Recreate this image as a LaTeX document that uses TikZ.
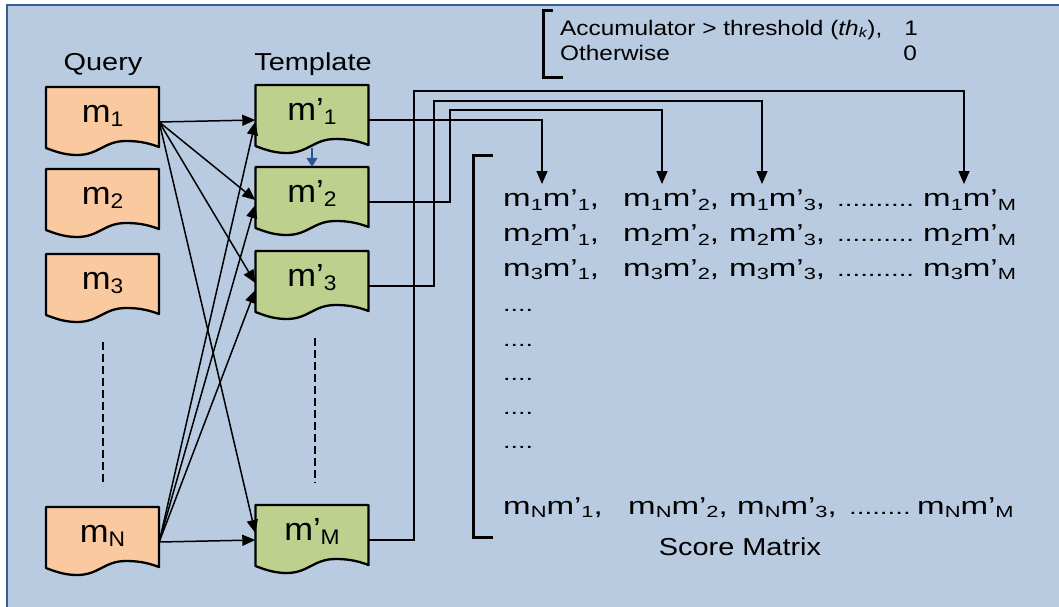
\documentclass[tikz,border=0pt]{standalone}
\usepackage{fontspec}
\setmainfont{Liberation Sans}
\usetikzlibrary{arrows.meta}
\newfontfamily\lblfont{Liberation Sans}[FakeStretch=1.18]
\newfontfamily\boxfont{Liberation Sans}[FakeStretch=1.08]
\newfontfamily\rowfont{Liberation Sans}[FakeStretch=1.35]
\newfontfamily\accfont{Liberation Sans}[FakeStretch=1.16]
\newcommand\lw[1]{\raisebox{-0.14em}{\scalebox{0.66}{#1}}}
\definecolor{bgcol}{RGB}{185,203,224}
\definecolor{bordercol}{RGB}{55,96,146}
\definecolor{peach}{RGB}{250,201,160}
\definecolor{leaf}{RGB}{189,208,142}
\definecolor{darrow}{RGB}{46,84,150}
\newcommand\docshape[3]{%
  \begin{scope}[shift={(#1,#2)}]
    \filldraw[fill=#3,draw=black,line width=2.3pt,line join=round]
      (0,0) -- (113,0) -- (113,60)
      .. controls (100,55) and (90,54) .. (80,54)
      .. controls (58,54) and (53,68) .. (31,68)
      .. controls (18,68) and (8,64) .. (0,61) -- cycle;
  \end{scope}}
\begin{document}
\begin{tikzpicture}[x=1pt,y=-1pt,
  boxnode/.style={minimum width=113pt,minimum height=70pt,inner sep=0pt,draw=none},
  boxtxt/.style={anchor=base,inner sep=0pt,font={\boxfont\fontsize{32}{36}\selectfont}},
  lbl/.style={anchor=base,inner sep=0pt,font={\lblfont\fontsize{24.5}{28}\selectfont}},
  acc/.style={inner sep=0pt,font={\accfont\fontsize{21}{24}\selectfont}},
  row/.style={anchor=base west,inner sep=0pt,font={\rowfont\fontsize{24.5}{28}\selectfont}},
  dots/.style={anchor=base west,inner sep=0pt,font={\rowfont\fontsize{20.5}{24}\selectfont}},
  sdots/.style={anchor=base west,inner sep=0pt,font={\rowfont\fontsize{20}{24}\selectfont}},
  conn/.style={line width=1.5pt,-{Triangle[length=13pt,width=11pt]}},
  brk/.style={line width=3pt},
  dashln/.style={line width=1.3pt,dash pattern=on 8pt off 4pt},
  bluearr/.style={darrow,line width=1.2pt,-{Triangle[length=9pt,width=11pt]}}]
\useasboundingbox (0,0) rectangle (1059,606);
% background
\fill[bgcol] (7,5) rectangle (1061,608);
\draw[bordercol,line width=1.6pt] (7,608) -- (7,5) -- (1061,5);

% headings
\node[lbl] (hq) at (103,70) {Query};
\node[lbl] (ht) at (313,70) {Template};

% document shapes
\docshape{46}{87}{peach}
\docshape{46}{169}{peach}
\docshape{46}{254}{peach}
\docshape{46}{507}{peach}
\docshape{255.5}{85}{leaf}
\docshape{255.5}{167}{leaf}
\docshape{255.5}{251}{leaf}
\docshape{255.5}{505}{leaf}

\node[boxnode] (q1) at (102.5,122) {};
\node[boxnode] (q2) at (102.5,204) {};
\node[boxnode] (q3) at (102.5,289) {};
\node[boxnode] (qN) at (102.5,542) {};
\node[boxnode] (t1) at (312,120) {};
\node[boxnode] (t2) at (312,202) {};
\node[boxnode] (t3) at (312,286) {};
\node[boxnode] (tM) at (312,540) {};

\node[boxtxt] (lq1) at (q1.center) {m\lw{1}};
\node[boxtxt] (lq2) at (q2.center) {m\lw{2}};
\node[boxtxt] (lq3) at (q3.center) {m\lw{3}};
\node[boxtxt] (lqN) at (qN.center) {m\lw{N}};
\node[boxtxt] (lt1) at (t1.center) {m’\lw{1}};
\node[boxtxt] (lt2) at (t2.center) {m’\lw{2}};
\node[boxtxt] (lt3) at (t3.center) {m’\lw{3}};
\node[boxtxt] (ltM) at (tM.center) {m’\lw{M}};

% vertical dashed continuation lines
\coordinate (dq1) at (103,342); \coordinate (dq2) at (103,486);
\coordinate (dt1) at (315,338); \coordinate (dt2) at (315,483);
\draw[dashln] (dq1) -- (dq2);
\draw[dashln] (dt1) -- (dt2);

% query -> template arrows
\draw[conn] (q1.east) -- (t1.west);
\draw[conn] (q1.east) -- ([yshift=2pt]t2.west);
\draw[conn] (q1.east) -- ([yshift=3pt]t3.west);
\draw[conn] (q1.east) -- ([yshift=7pt]tM.west);
\draw[conn] (qN.east) -- ([yshift=-2pt]t1.west);
\draw[conn] (qN.east) -- ([yshift=-3pt]t2.west);
\draw[conn] (qN.east) -- ([yshift=-4pt]t3.west);
\draw[conn] (qN.east) -- (tM.west);

% small blue arrow
\draw[bluearr] ([yshift=-28pt]t1.center) -- (t2.north);

% template -> score matrix
\coordinate (a1) at (542,184);
\coordinate (a2) at (662,184);
\coordinate (a3) at (762,184);
\coordinate (a4) at (964,184);
\coordinate (w2) at (450,110);
\coordinate (w3) at (434,101);
\coordinate (w4) at (414,91);
\draw[conn] (t1.east) -| (a1);
\draw[conn] (t2.east) -| (w2) -| (a2);
\draw[conn] (t3.east) -| (w3) -| (a3);
\draw[conn] (tM.east) -| (w4) -| (a4);

% threshold bracket and text
\draw[brk] (553,10) -- (543,10) -- (543,77) -- (563,77);
\node[acc,anchor=base west] (acc1) at (560,35) {Accumulator > threshold (\textit{th}\lw{\textit{k}}),};
\node[acc,anchor=base west] (acc2) at (560,60) {Otherwise};
\node[acc,anchor=base east] (acc3) at (918,35) {1};
\node[acc,anchor=base east] (acc4) at (917,60) {0};

% score matrix bracket
\draw[brk] (493,155) -- (473,155) -- (473,537) -- (493,537);

% score rows
\foreach \r/\yy in {1/206.7,2/241.7,3/276}{
  \node[row] (s\r a) at (503,\yy) {m\lw{\r}m’\lw{1},};
  \node[row] (s\r b) at (623,\yy) {m\lw{\r}m’\lw{2},};
  \node[row] (s\r c) at (729,\yy) {m\lw{\r}m’\lw{3},};
  \node[dots] (s\r d) at (837,\yy) {..........};
  \node[row] (s\r e) at (923,\yy) {m\lw{\r}m’\lw{M}};
}
\foreach \k/\yy in {1/311,2/346,3/380,4/414,5/448}{
  \node[sdots] (e\k) at (503,\yy) {....};
}
\node[row] (sNa) at (503,514) {m\lw{N}m’\lw{1},};
\node[row] (sNb) at (628,514) {m\lw{N}m’\lw{2},};
\node[row] (sNc) at (737,514) {m\lw{N}m’\lw{3},};
\node[dots] (sNd) at (849,514) {........};
\node[row] (sNe) at (917,514) {m\lw{N}m’\lw{M}};
\node[lbl] (smx) at (740,555) {Score Matrix};
\end{tikzpicture}
\end{document}
